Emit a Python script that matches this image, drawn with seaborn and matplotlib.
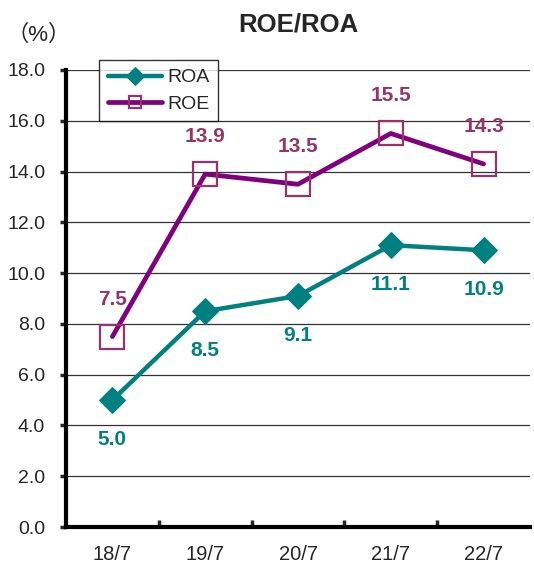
import numpy as np
import pandas as pd
import matplotlib
matplotlib.use("Agg")
import matplotlib.pyplot as plt
import seaborn as sns

# --- data ---
periods = ["18/7", "19/7", "20/7", "21/7", "22/7"]
roa = [5.0, 8.5, 9.1, 11.1, 10.9]
roe = [7.5, 13.9, 13.5, 15.5, 14.3]
y_ticks = [0, 2, 4, 6, 8, 10, 12, 14, 16, 18]

teal = "#008080"
purple = "#800080"
mauve = "#993366"

sns.set_style("white")
plt.rcParams["font.family"] = ["Liberation Sans", "Noto Sans CJK JP", "DejaVu Sans"]

df = pd.DataFrame({"pos": np.arange(len(periods)), "ROA": roa, "ROE": roe})

fig = plt.figure(figsize=(5.34, 5.63), dpi=100)
ax = fig.add_axes([66 / 534, 1 - 527 / 563, (530 - 66) / 534, (527 - 70) / 563])

# grid lines under the data
for v in y_ticks[1:]:
    ax.axhline(v, color="#333333", lw=0.9, zorder=0)

sns.lineplot(data=df, x="pos", y="ROA", ax=ax, color=teal, lw=3.2,
             marker="D", markersize=13, markeredgecolor=teal,
             markerfacecolor=teal, label="ROA", zorder=3)
sns.lineplot(data=df, x="pos", y="ROE", ax=ax, color=purple, lw=3.4,
             marker="s", markersize=17.5, markeredgecolor=mauve,
             markerfacecolor="none", markeredgewidth=1.6, label="ROE", zorder=3)

# value labels
for i, v in enumerate(roa):
    ax.annotate(f"{v:.1f}", (i, v), xytext=(0, -28.5), textcoords="offset points",
                ha="center", va="center", fontsize=15, fontweight="bold", color=teal)
for i, v in enumerate(roe):
    ax.annotate(f"{v:.1f}", (i, v), xytext=(0, 27), textcoords="offset points",
                ha="center", va="center", fontsize=15, fontweight="bold", color=mauve)

ax.set_xlim(-0.5, len(periods) - 0.5)
ax.set_ylim(0, 18)
ax.set_yticks(y_ticks)
ax.set_yticklabels([f"{v:.1f}" for v in y_ticks], fontsize=14)
ax.set_xticks(df["pos"])
ax.set_xticklabels(periods, fontsize=14.5)
ax.set_xticks(np.arange(0.5, len(periods) - 0.5), minor=True)
ax.tick_params(axis="x", which="major", length=0, pad=13)
ax.tick_params(axis="x", which="minor", direction="in", length=5, width=2.5, bottom=True)
ax.tick_params(axis="y", which="major", direction="out", length=4, width=2.5, pad=11, left=True)
ax.set_xlabel("")
ax.set_ylabel("")

for side in ["top", "right"]:
    ax.spines[side].set_visible(False)
for side in ["left", "bottom"]:
    ax.spines[side].set_linewidth(3)
    ax.spines[side].set_color("black")

leg = ax.legend(loc="upper left", bbox_to_anchor=(33 / 464, 1 + 10 / 457),
                borderaxespad=0, fontsize=14, frameon=True, fancybox=False,
                edgecolor="black", handlelength=2.8, borderpad=0.45,
                labelspacing=0.45, handletextpad=0.25)
leg.get_frame().set_linewidth(1.0)
for h in leg.legend_handles:
    h.set_markersize(9)

fig.text(298 / 534, 1 - 25 / 563, "ROE/ROA", fontsize=18.5, fontweight="bold",
         ha="center", va="center")
fig.text(6 / 534, 1 - 35 / 563, "（%）", fontsize=16, ha="left", va="center")

fig.savefig("out.png", dpi=100)
